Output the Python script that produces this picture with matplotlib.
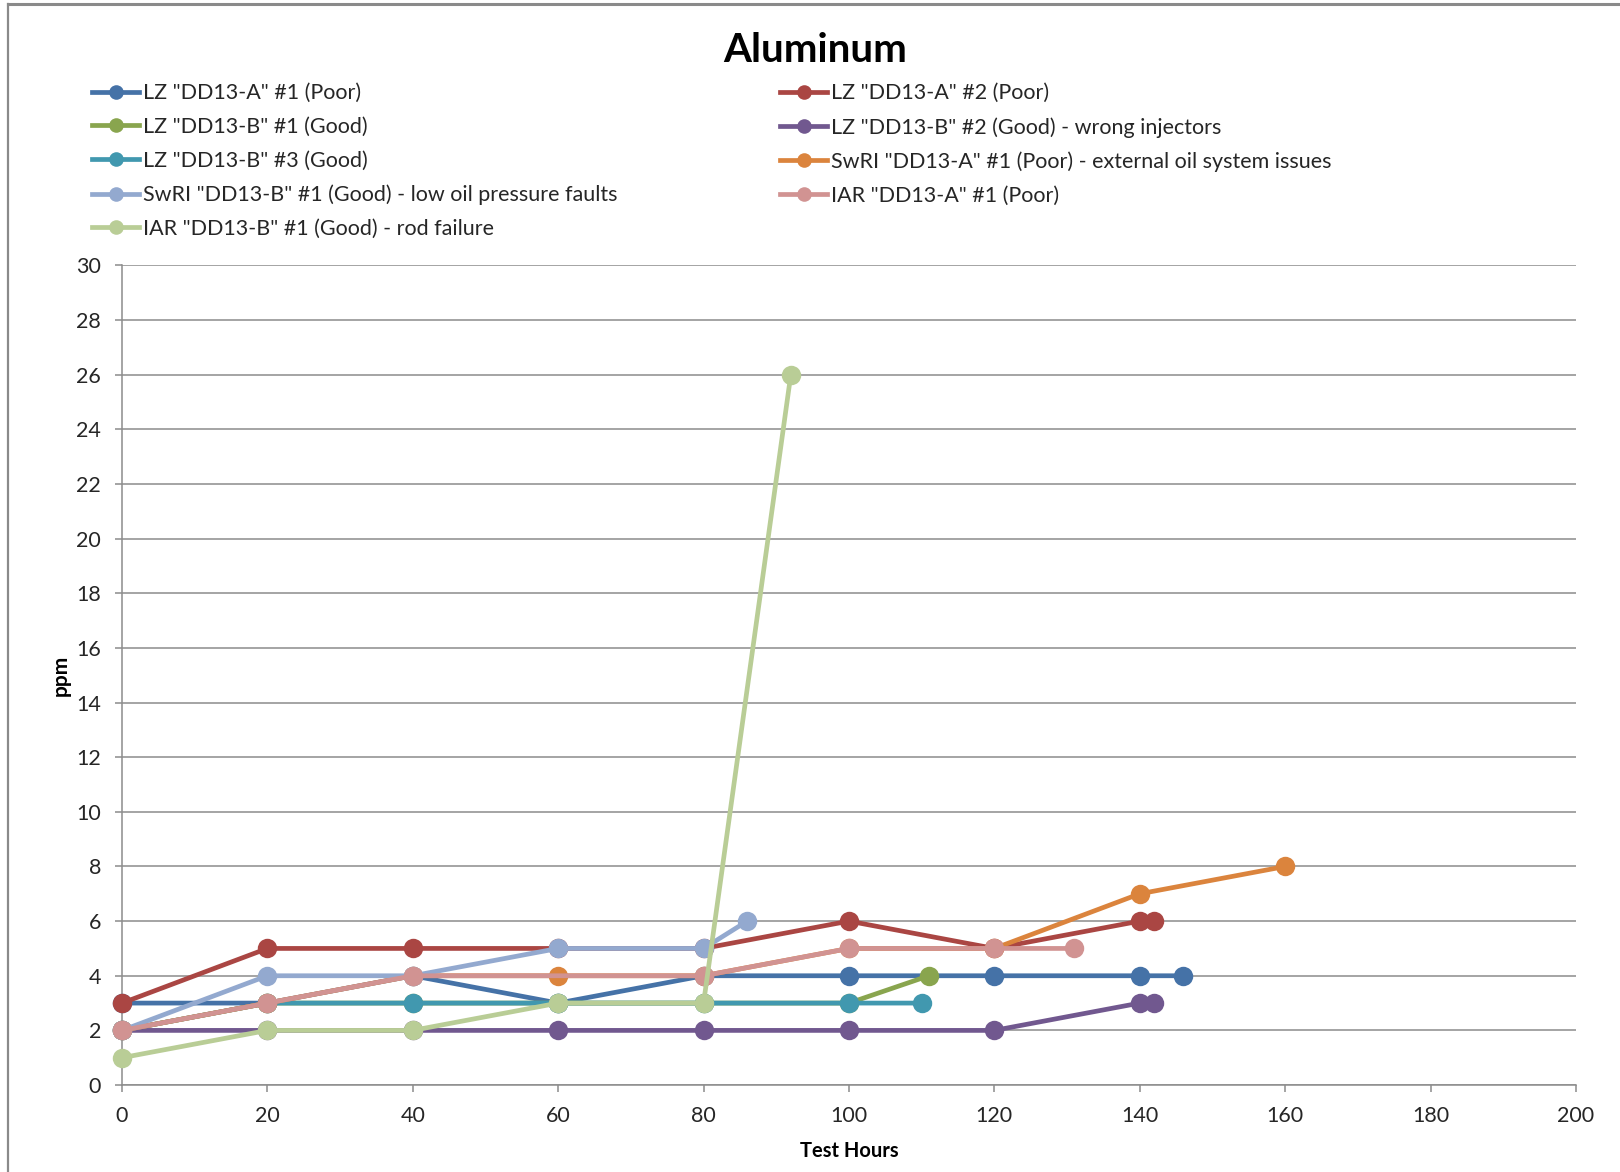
import matplotlib.pyplot as plt
from matplotlib.lines import Line2D

plt.rcParams['font.family'] = ['Lato', 'DejaVu Sans']

# Aluminum (ppm) per engine test, sampled by test hours
lz_a1_hours = [0, 20, 40, 60, 80, 100, 120, 140, 146]
lz_a1_ppm = [3, 3, 4, 3, 4, 4, 4, 4, 4]

lz_a2_hours = [0, 20, 40, 60, 80, 100, 120, 140, 142]
lz_a2_ppm = [3, 5, 5, 5, 5, 6, 5, 6, 6]

lz_b1_hours = [0, 20, 40, 60, 80, 100, 111]
lz_b1_ppm = [2, 3, 3, 3, 3, 3, 4]

lz_b2_hours = [0, 20, 40, 60, 80, 100, 120, 140, 142]
lz_b2_ppm = [2, 2, 2, 2, 2, 2, 2, 3, 3]

lz_b3_hours = [0, 20, 40, 60, 80, 100, 110]
lz_b3_ppm = [2, 3, 3, 3, 3, 3, 3]

swri_a1_hours = [0, 20, 40, 60, 80, 100, 120, 140, 160]
swri_a1_ppm = [2, 3, 4, 4, 4, 5, 5, 7, 8]

swri_b1_hours = [0, 20, 40, 60, 80, 86]
swri_b1_ppm = [2, 4, 4, 5, 5, 6]

iar_a1_hours = [0, 20, 40, 80, 100, 120, 131]
iar_a1_ppm = [2, 3, 4, 4, 5, 5, 5]

iar_b1_hours = [0, 20, 40, 60, 80, 92]
iar_b1_ppm = [1, 2, 2, 3, 3, 26]

labels = [
    'LZ "DD13-A" #1 (Poor)',
    'LZ "DD13-A" #2 (Poor)',
    'LZ "DD13-B" #1 (Good)',
    'LZ "DD13-B" #2 (Good) - wrong injectors',
    'LZ "DD13-B" #3 (Good)',
    'SwRI "DD13-A" #1 (Poor) - external oil system issues',
    'SwRI "DD13-B" #1 (Good) - low oil pressure faults',
    'IAR "DD13-A" #1 (Poor)',
    'IAR "DD13-B" #1 (Good) - rod failure',
]
series = [
    (lz_a1_hours, lz_a1_ppm),
    (lz_a2_hours, lz_a2_ppm),
    (lz_b1_hours, lz_b1_ppm),
    (lz_b2_hours, lz_b2_ppm),
    (lz_b3_hours, lz_b3_ppm),
    (swri_a1_hours, swri_a1_ppm),
    (swri_b1_hours, swri_b1_ppm),
    (iar_a1_hours, iar_a1_ppm),
    (iar_b1_hours, iar_b1_ppm),
]
colors = ['#4572A7', '#AA4643', '#89A54E', '#71588F', '#4198AF',
          '#DB843D', '#93A9CF', '#D19392', '#B9CD96']

GRID = '#8C8C8C'
TEXT = '#262626'

fig = plt.figure(figsize=(16.2, 11.72), dpi=100)
ax = fig.add_axes([0.0753, 0.0742, 0.8975, 0.6993])

handles = []
for (x, y), c, lab in zip(series, colors, labels):
    h, = ax.plot(x, y, color=c, lw=3.4, marker='o', ms=14,
                 markeredgewidth=0, label=lab, clip_on=False,
                 solid_joinstyle='round', zorder=3)
    handles.append(h)

ax.set_xlim(0, 200)
ax.set_ylim(0, 30)
ax.set_xticks(range(0, 201, 20))
ax.set_yticks(range(0, 31, 2))
ax.grid(axis='y', color=GRID, lw=1.1)
ax.set_axisbelow(True)
for side in ('top', 'right'):
    ax.spines[side].set_visible(False)
for side in ('left', 'bottom'):
    ax.spines[side].set_color(GRID)
    ax.spines[side].set_linewidth(1.1)
ax.tick_params(axis='both', colors=GRID, length=5, width=1.1,
               labelsize=15.5, labelcolor=TEXT)
ax.tick_params(axis='y', pad=10)
ax.tick_params(axis='x', pad=10)

ax.set_xlabel('Test Hours', fontsize=14.5, fontweight='bold', color='black', labelpad=11)
ax.set_ylabel('ppm', fontsize=15, fontweight='bold', color='black', labelpad=4)

fig.text(0.503, 0.957, 'Aluminum', ha='center', va='center',
         fontsize=29, fontweight='bold', color='black')

# two legend columns, filled row by row
leg_kw = dict(loc='upper left', frameon=False, fontsize=15.5, handlelength=2.2,
              handletextpad=0.15, labelspacing=0.64, markerscale=0.75,
              borderaxespad=0, borderpad=0)
left = [handles[i] for i in (0, 2, 4, 6, 8)]
right = [handles[i] for i in (1, 3, 5, 7)]
leg1 = fig.legend(handles=left, labels=[h.get_label() for h in left],
                  bbox_to_anchor=(0.0568, 0.929), **leg_kw)
leg2 = fig.legend(handles=right, labels=[h.get_label() for h in right],
                  bbox_to_anchor=(0.4815, 0.929), **leg_kw)
for leg in (leg1, leg2):
    for t in leg.get_texts():
        t.set_color(TEXT)

# outer chart frame (top and left edges)
fig.add_artist(Line2D([0.005, 1.0], [0.9965, 0.9965], color='#8A8A8A', lw=2.2))
fig.add_artist(Line2D([0.005, 0.005], [0.0, 0.9965], color='#8A8A8A', lw=1.6))

fig.savefig('out.png', dpi=100)
